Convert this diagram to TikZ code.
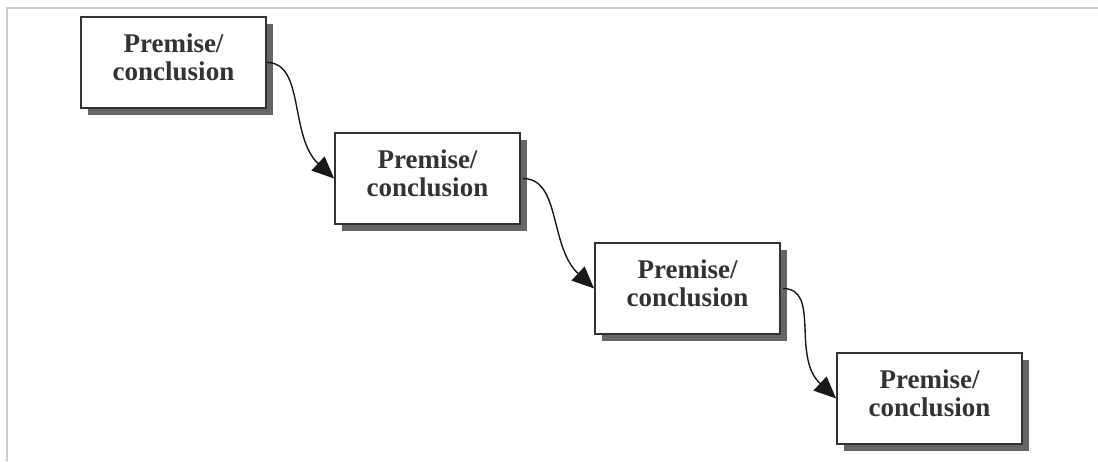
\documentclass[tikz,border=0pt]{standalone}
\usepackage{fontspec}
\setmainfont{Liberation Serif}
\usetikzlibrary{arrows.meta,shadows}
\tikzset{
  frame/.style={draw=black!20, line width=1.5pt},
  pbox/.style={draw=black!80, line width=1.8pt, fill=white, minimum width=185pt, minimum height=91pt, inner sep=0pt,
    drop shadow={shadow xshift=6.5pt, shadow yshift=-6.5pt, fill=black!60, opacity=1}},
  ptext/.style={align=center, font=\fontsize{27}{28.5}\selectfont\bfseries, text=black!80, inner sep=0pt},
  conn/.style={draw=black!90, line width=1.4pt, -{Triangle[length=22pt,width=19pt]}},
}
\begin{document}
\begin{tikzpicture}[x=1pt,y=-1pt]
\useasboundingbox (0,0) rectangle (1098,461);
\fill[white] (0,0) rectangle (1098,461);
\coordinate (tl) at (7,8);
\coordinate (tr) at (1098,8);
\coordinate (bl) at (7,461);
\draw[frame] (tr) -- (tl) -- (bl);

\node[pbox] (b1) at (173.5,62.5) {};
\node[pbox] (b2) at (427.5,178.5) {};
\node[pbox] (b3) at (687.5,288.5) {};
\node[pbox] (b4) at (929.5,398.5) {};

\node[ptext] (t1) at ([yshift=5pt]b1.center) {Premise/\\conclusion};
\node[ptext] (t2) at ([yshift=5pt]b2.center) {Premise/\\conclusion};
\node[ptext] (t3) at ([yshift=5pt]b3.center) {Premise/\\conclusion};
\node[ptext] (t4) at ([yshift=5pt]b4.center) {Premise/\\conclusion};

\draw[conn] (b1.east) .. controls +(38,0) and +(-45,-42) .. (b2.west);
\draw[conn] ([xshift=2pt]b2.east) .. controls +(38,0) and +(-45,-42) .. (b3.west);
\draw[conn] ([xshift=2pt]b3.east) .. controls +(38,0) and +(-45,-42) .. (b4.west);
\end{tikzpicture}
\end{document}
